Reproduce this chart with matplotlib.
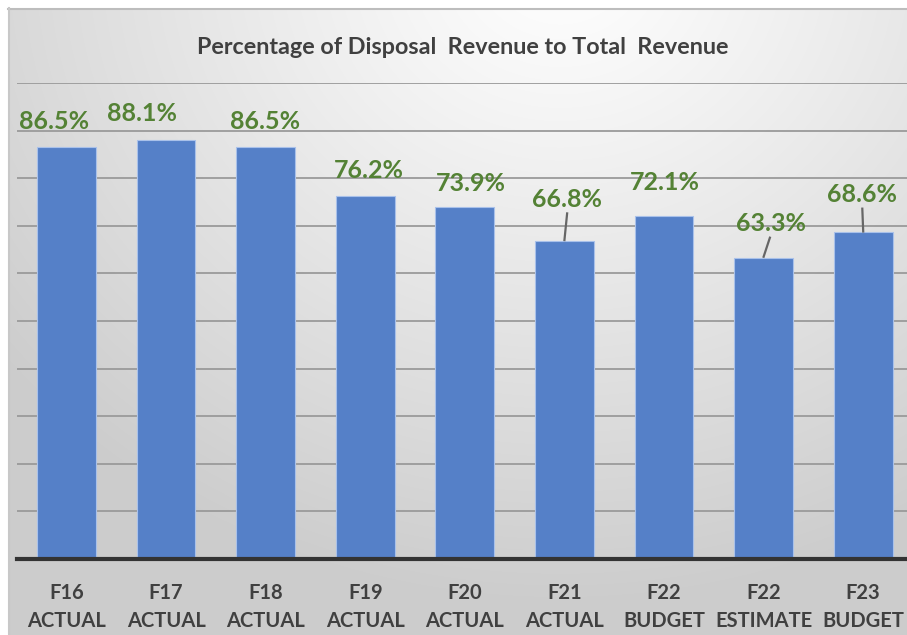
import numpy as np
import matplotlib
matplotlib.use("Agg")
import matplotlib.pyplot as plt
from matplotlib.lines import Line2D

# ---- data ----
categories = ["F16\nACTUAL", "F17\nACTUAL", "F18\nACTUAL", "F19\nACTUAL", "F20\nACTUAL",
              "F21\nACTUAL", "F22\nBUDGET", "F22\nESTIMATE", "F23\nBUDGET"]
values = [86.5, 88.1, 86.5, 76.2, 73.9, 66.8, 72.1, 63.3, 68.6]
title = "Percentage of Disposal  Revenue to Total  Revenue"

# label placement (layout only): x offset in category units, y offset in data units
label_dx = [-0.12, -0.24, -0.01, 0.04, 0.06, 0.03, 0.01, 0.07, -0.01]
label_dy = [5.4, 5.4, 5.4, 5.4, 5.0, 8.8, 7.0, 7.2, 8.0]
leader = [False, False, False, False, False, True, False, True, True]

W, H = 907, 635
fig = plt.figure(figsize=(W / 100, H / 100), dpi=100)

# background gradient
bg = fig.add_axes([0, 0, 1, 1], zorder=-5)
yy, xx = np.mgrid[0:H, 0:W]
cx, cy = 560, -40
d = np.sqrt(((xx - cx) / 1.0) ** 2 + ((yy - cy) / 0.9) ** 2)
t = np.clip(d / 720.0, 0, 1)
g = 1.0 - 0.20 * t ** 1.1
img = np.dstack([g, g, g])
img[:8, :, :] = 1.0
img[:, :8, :] = 1.0
bg.imshow(img, extent=[0, W, H, 0], aspect="auto", interpolation="bilinear")
bg.plot([8, W], [8.5, 8.5], color="#bdbdbd", lw=1.5)
bg.plot([8.5, 8.5], [8, H], color="#c8c8c8", lw=1.5)
bg.set_xlim(0, W)
bg.set_ylim(H, 0)
bg.axis("off")

# main axes (pixel-derived placement)
left_px, right_px = 16.7, 913.0
axis_y, top_y = 559.0, 83.0
ax = fig.add_axes([left_px / W, (H - axis_y) / H, (right_px - left_px) / W, (axis_y - top_y) / H])
ax.set_facecolor("none")
x = np.arange(len(categories))
ax.bar(x, values, width=0.59, color="#5580C8", edgecolor="#a9c1ea", linewidth=0.8, zorder=3)
ax.set_xlim(-0.5, len(categories) - 0.5)
ax.set_ylim(0, 100)
ax.set_yticks(np.arange(10, 101, 10))
ax.yaxis.grid(True, color="#9a9a9a", lw=1.3, zorder=0)
ax.tick_params(axis="y", left=False, labelleft=False)
ax.tick_params(axis="x", bottom=False, pad=14)
for s in ["top", "right", "left"]:
    ax.spines[s].set_visible(False)
ax.spines["bottom"].set_color("#333333")
ax.spines["bottom"].set_linewidth(3)
ax.spines["bottom"].set_zorder(4)

ax.set_xticks(x)
ax.set_xticklabels(categories, fontsize=14.5, fontweight="bold", color="#404040",
                   family="Lato", linespacing=1.45)

for i, v in enumerate(values):
    ax.text(i + label_dx[i], v + label_dy[i], f"{v:.1f}%", ha="center", va="center",
            fontsize=18, fontweight="bold", color="#548235", family="Lato", zorder=5)
    if leader[i]:
        ax.add_line(Line2D([i + label_dx[i] * 0.9, i + label_dx[i] * 0.0],
                           [v + label_dy[i] - 3.0, v + 0.2],
                           color="#666666", lw=1.6, zorder=4))

fig.text(0.51, 1 - 47 / H, title, ha="center", va="center", fontsize=16.8,
         fontweight="bold", color="#404040", family="Lato")

fig.savefig("out.png", dpi=100)
